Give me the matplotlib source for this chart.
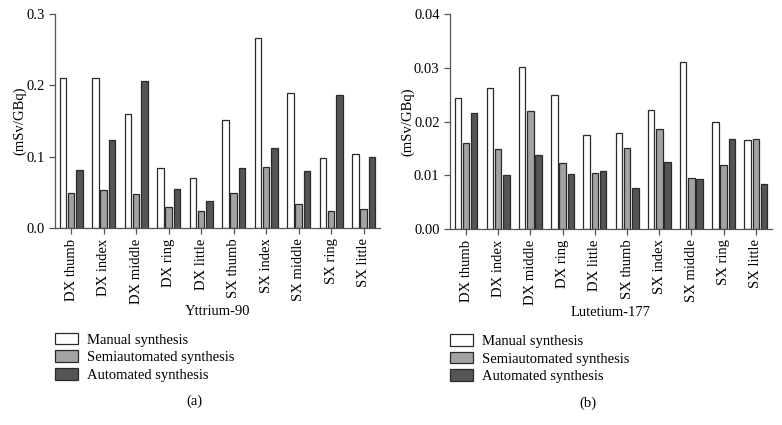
import numpy as np
import matplotlib
matplotlib.use("Agg")
import matplotlib.pyplot as plt

# finger positions (DX = right hand, SX = left hand)
fingers = ["DX thumb", "DX index", "DX middle", "DX ring", "DX little",
           "SX thumb", "SX index", "SX middle", "SX ring", "SX little"]
series = ["Manual synthesis", "Semiautomated synthesis", "Automated synthesis"]

# Yttrium-90 doses (mSv/GBq)
y90_manual = [0.210, 0.211, 0.160, 0.084, 0.070, 0.152, 0.267, 0.189, 0.098, 0.104]
y90_semi = [0.049, 0.053, 0.048, 0.030, 0.024, 0.049, 0.086, 0.033, 0.024, 0.026]
y90_auto = [0.081, 0.124, 0.206, 0.054, 0.038, 0.084, 0.112, 0.080, 0.186, 0.099]

# Lutetium-177 doses (mSv/GBq)
lu_manual = [0.0244, 0.0262, 0.0301, 0.0250, 0.0175, 0.0178, 0.0222, 0.0311, 0.0199, 0.0165]
lu_semi = [0.0160, 0.0149, 0.0220, 0.0122, 0.0105, 0.0151, 0.0186, 0.0095, 0.0120, 0.0167]
lu_auto = [0.0215, 0.0101, 0.0137, 0.0102, 0.0107, 0.0077, 0.0125, 0.0093, 0.0167, 0.0084]

colors = ["white", "#a3a3a3", "#555555"]

plt.rcParams["font.family"] = ["Liberation Serif", "DejaVu Serif"]
plt.rcParams["font.size"] = 10

fig = plt.figure(figsize=(7.82, 4.25), dpi=100)
ax1 = fig.add_axes([0.0703, 0.4635, 0.4156, 0.5035])
ax2 = fig.add_axes([0.5754, 0.4612, 0.4118, 0.5058])


def draw(ax, data, ylim, yticks, fmt, xlabel, tag):
    x = np.arange(len(fingers))
    w = 0.2
    for i, (vals, c) in enumerate(zip(data, colors)):
        ax.bar(x + (i - 1) * 0.255, vals, width=w, color=c,
               edgecolor="#2a2a2a", linewidth=0.9, label=series[i])
    ax.set_xlim(-0.5, 9.5)
    ax.set_ylim(*ylim)
    ax.set_yticks(yticks)
    ax.set_yticklabels([fmt.format(v) for v in yticks], fontsize=10.5)
    ax.set_xticks(x)
    ax.set_xticklabels(fingers, rotation=90, fontsize=10.5)
    for s in ["top", "right"]:
        ax.spines[s].set_visible(False)
    for s in ["left", "bottom"]:
        ax.spines[s].set_color("#555555")
        ax.spines[s].set_linewidth(0.9)
    ax.tick_params(axis="both", direction="out", length=4, color="#555555", width=0.9)
    ax.set_ylabel("(mSv/GBq)", fontsize=10.5, labelpad=0)
    ax.set_xlabel(xlabel, fontsize=10.5, labelpad=1)
    ax.legend(loc="upper left", bbox_to_anchor=(0.0, -0.49), frameon=False,
              borderaxespad=0, borderpad=0, handlelength=1.6, handleheight=0.85,
              handletextpad=0.6, labelspacing=0.25, fontsize=10.5)
    ax.text(0.43, -0.81, tag, transform=ax.transAxes, ha="center", va="center", fontsize=10.5)


draw(ax1, [y90_manual, y90_semi, y90_auto], (0, 0.3), [0.0, 0.1, 0.2, 0.3],
     "{:.1f}", "Yttrium-90", "(a)")
draw(ax2, [lu_manual, lu_semi, lu_auto], (0, 0.04), [0.00, 0.01, 0.02, 0.03, 0.04],
     "{:.2f}", "Lutetium-177", "(b)")

fig.savefig("out.png", dpi=100)
